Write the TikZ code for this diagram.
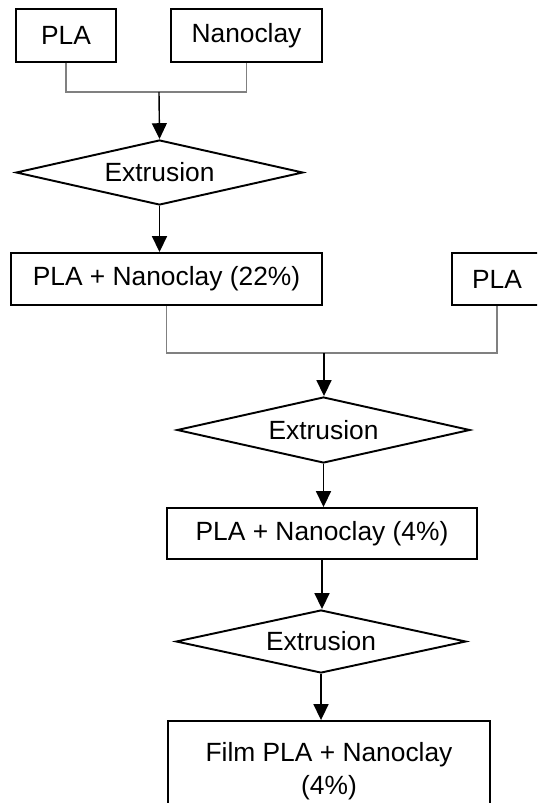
\documentclass[tikz,border=0pt]{standalone}
\usepackage{fontspec}
\setmainfont{Liberation Sans}
\usepackage{tikz}
\usetikzlibrary{shapes.geometric, arrows.meta}

\begin{document}
\begin{tikzpicture}[
    x=0.02cm, y=-0.02cm,
    font=\fontsize{15}{18.8}\selectfont,
    stepbox/.style={draw, line width=1.1pt, inner sep=0pt},
    extr/.style={draw, diamond, line width=1.1pt, inner sep=0pt, aspect=4.4},
    joinline/.style={draw=black!50, line width=0.9pt},
    flow/.style={draw, line width=0.8pt, -{Triangle[width=8.5pt, length=9pt]}}
]

  \useasboundingbox (0,0) rectangle (537,803);
  \clip (0,0) rectangle (537,803);

  % --- FIRST STAGE ---
  \node[stepbox, minimum width=2cm, minimum height=1.06cm] (pla1) at (66,35.5) {PLA};
  \node[stepbox, minimum width=3.02cm, minimum height=1.06cm] (nano) at (246.5,35.5) {Nanoclay};
  \coordinate (j1) at (159,92);
  \node[extr, minimum width=5.74cm, minimum height=1.3cm] (ext1) at (159.5,172.5) {Extrusion};

  % --- SECOND STAGE ---
  \node[stepbox, minimum width=6.22cm, minimum height=1.04cm] (mix22) at (166.5,279) {PLA + Nanoclay (22\%)};
  \node[stepbox, minimum width=1.8cm, minimum height=1.04cm] (pla2) at (497,279) {PLA};
  \coordinate (j2) at (324,353);
  \node[extr, minimum width=5.86cm, minimum height=1.32cm] (ext2) at (323.5,430) {Extrusion};

  % --- FINAL STAGE ---
  \node[stepbox, minimum width=6.2cm, minimum height=1.02cm] (mix4) at (322,533.5) {PLA + Nanoclay (4\%)};
  \node[extr, minimum width=5.8cm, minimum height=1.26cm] (ext3) at (321,641.5) {Extrusion};
  \node[stepbox, minimum width=6.44cm, minimum height=2cm, align=center] (film) at (329,771) {Film PLA + Nanoclay\\(4\%)};

  % --- DRAWING EDGES ---
  \draw[joinline] (pla1.south) |- (j1) -| (nano.south);
  \draw[flow] (j1) -- (ext1.north);
  \draw[flow] (ext1.south) -- (ext1.south |- mix22.north);

  \draw[joinline] (mix22.south) |- (j2) -| (pla2.south);
  \draw[flow] (j2) -- (j2 |- ext2.north);
  \draw[flow] (ext2.south) -- (ext2.south |- mix4.north);
  \draw[flow] (mix4.south) -- (mix4.south |- ext3.north);
  \draw[flow] (ext3.south) -- (ext3.south |- film.north);

\end{tikzpicture}
\end{document}
